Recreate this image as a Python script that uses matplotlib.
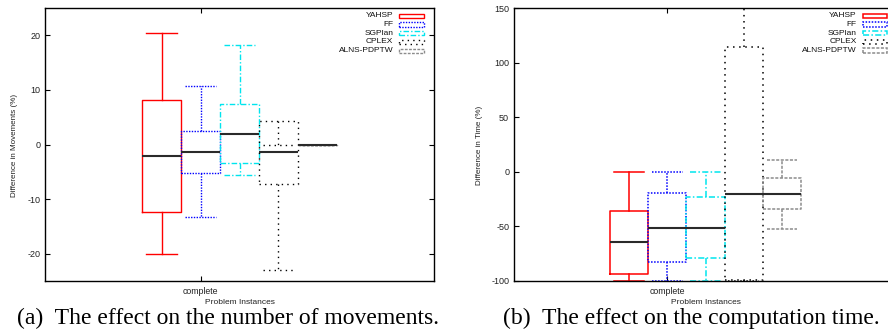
import matplotlib
matplotlib.use("Agg")
import matplotlib.pyplot as plt
from matplotlib.patches import Rectangle

# ---- data -------------------------------------------------------------
planners = ["YAHSP", "FF", "SGPlan", "CPLEX", "ALNS-PDPTW"]
category = "complete"

# Difference in movements (%)
mov_whislo = [-20.0, -13.3, -5.55, -23.0, 0.0]
mov_q1 = [-12.4, -5.2, -3.35, -7.2, 0.0]
mov_med = [-2.1, -1.4, 2.0, -1.4, 0.0]
mov_q3 = [8.1, 2.45, 7.4, 4.3, 0.0]
mov_whishi = [20.4, 10.8, 18.2, 0.0, 0.0]
mov_ticks = [-20, -10, 0, 10, 20]

# Difference in computation time (%)
time_whislo = [-100.0, -100.0, -100.0, -100.0, -52.2]
time_q1 = [-93.4, -82.4, -79.0, -99.5, -34.2]
time_med = [-64.7, -51.3, -51.3, -20.1, -20.1]
time_q3 = [-36.0, -19.5, -23.2, 114.5, -6.1]
time_whishi = [0.0, 0.0, 0.0, 150.0, 10.7]
time_ticks = [-100, -50, 0, 50, 100, 150]

# ---- styling ----------------------------------------------------------
colors = ["#ff0000", "#0000ff", "#00e5ee", "#000000", "#8c8c8c"]
styles = ["-", (0, (1, 1)), (0, (4, 1.5, 1, 1.5)), (0, (1, 3)), (0, (2, 1))]
offsets = [-0.2, 0.0, 0.2, 0.4, 0.6]
box_w = 0.2
cap_w = 0.16

plt.rcParams["font.family"] = ["Liberation Sans", "DejaVu Sans"]
plt.rcParams["axes.unicode_minus"] = False

W, H = 888, 334
fig = plt.figure(figsize=(W / 100, H / 100), dpi=100)


def px_axes(x0, x1, ytop, ybot):
    return fig.add_axes([x0 / W, 1 - ybot / H, (x1 - x0) / W, (ybot - ytop) / H])


def draw_panel(ax, lo, q1, med, q3, hi, ylim, yticks, lw):
    for i, name in enumerate(planners):
        stats = [dict(med=med[i], q1=q1[i], q3=q3[i], whislo=lo[i],
                      whishi=hi[i], fliers=[], label=name)]
        lp = dict(color=colors[i], linestyle=styles[i], linewidth=lw)
        ax.bxp(stats, positions=[1.0 + offsets[i]], widths=box_w,
               capwidths=cap_w, showfliers=False, manage_ticks=False,
               boxprops=lp, whiskerprops=lp, capprops=lp,
               medianprops=dict(color="#2a2a2a", linewidth=1.5, linestyle="-"))
    ax.set_xlim(0.2, 2.2)
    ax.set_ylim(*ylim)
    ax.set_xticks([1.0])
    ax.set_xticklabels([category])
    ax.set_yticks(yticks)
    ax.tick_params(direction="in", top=True, right=True, length=3.5,
                   width=0.8, labelsize=6.5, labelcolor="#222222", pad=3.5)
    ax.tick_params(axis="x", labelsize=6.3, pad=4)
    for s in ax.spines.values():
        s.set_linewidth(1.0)
    # key in the upper right corner
    for i, name in enumerate(planners):
        yc = 0.972 - i * 0.032
        ax.text(0.895, yc, name, transform=ax.transAxes, ha="right",
                va="center", fontsize=6, color="#111111")
        ax.add_patch(Rectangle((0.910, yc - 0.0078), 0.064, 0.0156,
                               transform=ax.transAxes, fill=False,
                               edgecolor=colors[i], linestyle=styles[i],
                               linewidth=lw, clip_on=False))


ax1 = px_axes(45, 434, 8, 281.3)
draw_panel(ax1, mov_whislo, mov_q1, mov_med, mov_q3, mov_whishi,
           (-25, 25), mov_ticks, 1.0)

ax2 = px_axes(514, 897, 8, 281.0)
draw_panel(ax2, time_whislo, time_q1, time_med, time_q3, time_whishi,
           (-100, 150), time_ticks, 1.1)

# axis titles
fig.text(15 / W, 1 - 145 / H, "Difference in Movements (%)", rotation=90,
         ha="center", va="center", fontsize=5.8, color="#222222")
fig.text(479 / W, 1 - 145 / H, "Difference in Time (%)", rotation=90,
         ha="center", va="center", fontsize=5.8, color="#222222")
fig.text(240 / W, 1 - 303 / H, "Problem Instances", ha="center", va="center",
         fontsize=6, color="#222222")
fig.text(706 / W, 1 - 303 / H, "Problem Instances", ha="center", va="center",
         fontsize=6, color="#222222")

# sub-figure captions
fig.text(228 / W, 1 - 318 / H, "(a)  The effect on the number of movements.",
         ha="center", va="center", fontsize=17, family="Liberation Serif")
fig.text(691 / W, 1 - 318 / H, "(b)  The effect on the computation time.",
         ha="center", va="center", fontsize=17, family="Liberation Serif")

fig.savefig("out.png", dpi=100)
